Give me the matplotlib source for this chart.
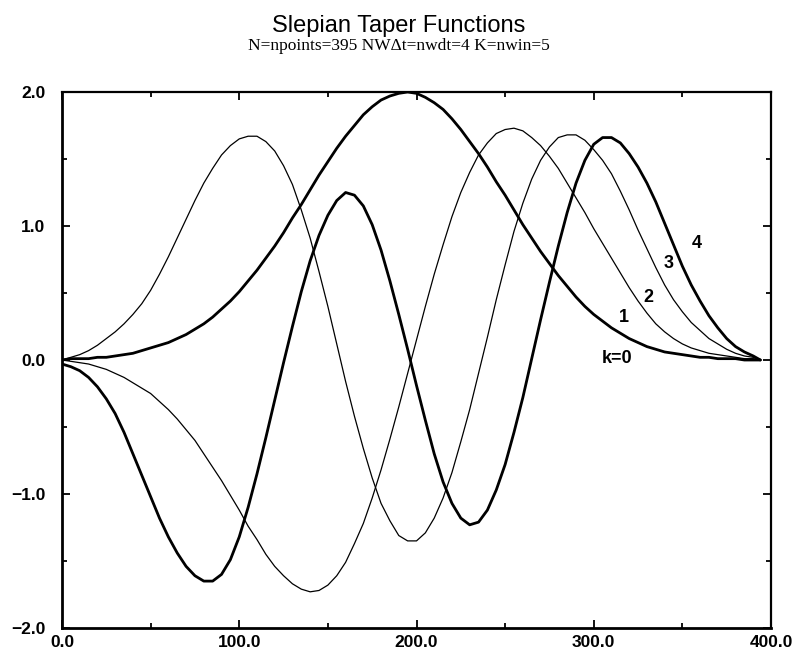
import matplotlib
matplotlib.use("Agg")
import matplotlib.pyplot as plt
from matplotlib.ticker import MultipleLocator, FuncFormatter

# sample positions along the taper (N = 395 points)
x = list(range(0, 395, 5)) + [394]

# taper values, one list per order k
k0 = [0.00, 0.01, 0.01, 0.01, 0.02, 0.02, 0.03, 0.04, 0.05, 0.07,
      0.09, 0.11, 0.13, 0.16, 0.19, 0.23, 0.27, 0.32, 0.38, 0.44,
      0.51, 0.59, 0.67, 0.76, 0.85, 0.95, 1.06, 1.16, 1.27, 1.38,
      1.48, 1.58, 1.67, 1.75, 1.83, 1.89, 1.94, 1.97, 1.99, 2.00,
      1.99, 1.96, 1.92, 1.87, 1.80, 1.72, 1.63, 1.54, 1.44, 1.33,
      1.23, 1.12, 1.01, 0.91, 0.81, 0.72, 0.63, 0.55, 0.47, 0.40,
      0.34, 0.29, 0.24, 0.20, 0.16, 0.13, 0.10, 0.08, 0.06, 0.05,
      0.04, 0.03, 0.02, 0.02, 0.01, 0.01, 0.01, 0.00, 0.00, 0.00]
k1 = [0.00, -0.01, -0.02, -0.03, -0.05, -0.07, -0.10, -0.13, -0.17, -0.21,
      -0.25, -0.31, -0.37, -0.44, -0.52, -0.60, -0.70, -0.80, -0.90, -1.01,
      -1.12, -1.24, -1.34, -1.45, -1.54, -1.61, -1.67, -1.71, -1.73, -1.72,
      -1.68, -1.61, -1.51, -1.37, -1.22, -1.03, -0.82, -0.59, -0.35, -0.10,
      0.15, 0.40, 0.64, 0.86, 1.07, 1.25, 1.40, 1.53, 1.62, 1.69,
      1.72, 1.73, 1.71, 1.66, 1.60, 1.52, 1.43, 1.32, 1.21, 1.10,
      0.98, 0.87, 0.76, 0.65, 0.54, 0.44, 0.35, 0.27, 0.21, 0.16,
      0.12, 0.09, 0.07, 0.05, 0.04, 0.03, 0.02, 0.01, 0.01, 0.00]
k2 = [0.00, 0.02, 0.04, 0.07, 0.11, 0.16, 0.21, 0.27, 0.34, 0.42,
      0.52, 0.64, 0.77, 0.91, 1.05, 1.19, 1.32, 1.43, 1.53, 1.60,
      1.65, 1.67, 1.67, 1.63, 1.56, 1.45, 1.31, 1.12, 0.91, 0.66,
      0.40, 0.12, -0.16, -0.42, -0.66, -0.88, -1.07, -1.20, -1.31, -1.35,
      -1.35, -1.29, -1.18, -1.03, -0.84, -0.61, -0.37, -0.10, 0.17, 0.45,
      0.71, 0.96, 1.17, 1.35, 1.49, 1.59, 1.66, 1.68, 1.68, 1.64,
      1.57, 1.49, 1.39, 1.26, 1.12, 0.97, 0.83, 0.69, 0.56, 0.45,
      0.36, 0.28, 0.22, 0.16, 0.12, 0.08, 0.05, 0.03, 0.02, 0.00]
k3 = [-0.03, -0.05, -0.08, -0.13, -0.20, -0.29, -0.40, -0.54, -0.70, -0.86,
      -1.02, -1.18, -1.32, -1.44, -1.54, -1.61, -1.65, -1.65, -1.60, -1.49,
      -1.32, -1.10, -0.85, -0.58, -0.30, -0.02, 0.25, 0.51, 0.74, 0.93,
      1.08, 1.19, 1.25, 1.23, 1.15, 1.01, 0.82, 0.59, 0.34, 0.08,
      -0.19, -0.45, -0.70, -0.91, -1.07, -1.18, -1.23, -1.21, -1.12, -0.97,
      -0.78, -0.54, -0.28, 0.01, 0.30, 0.58, 0.85, 1.10, 1.32, 1.49,
      1.61, 1.66, 1.66, 1.62, 1.54, 1.44, 1.32, 1.18, 1.02, 0.86,
      0.70, 0.56, 0.44, 0.33, 0.24, 0.16, 0.10, 0.06, 0.03, 0.00]

series = [(k0, 2.0), (k1, 0.9), (k2, 0.9), (k3, 2.0)]

# curve labels at the right-hand tails
label_text = ["k=0", "1", "2", "3", "4"]
label_x = [313, 317, 331, 342, 358]
label_y = [0.01, 0.32, 0.47, 0.72, 0.87]

plt.rcParams['font.family'] = ['Liberation Sans', 'DejaVu Sans']

fig = plt.figure(figsize=(7.97, 6.55), dpi=100)
ax = fig.add_axes([62 / 797, 1 - 628 / 655, 709 / 797, 536 / 655])

for vals, lw in series:
    ax.plot(x, vals, color='black', lw=lw, solid_capstyle='round',
            solid_joinstyle='round')

for t, lx, ly in zip(label_text, label_x, label_y):
    ax.text(lx, ly, t, ha='center', va='center', fontsize=13, fontweight='bold')

ax.set_xlim(0, 400)
ax.set_ylim(-2, 2)
ax.xaxis.set_major_locator(MultipleLocator(100))
ax.xaxis.set_minor_locator(MultipleLocator(50))
ax.yaxis.set_major_locator(MultipleLocator(1))
ax.yaxis.set_minor_locator(MultipleLocator(0.5))
fmt = FuncFormatter(lambda v, pos: f"{v:.1f}".replace('-', '\u2212'))
ax.xaxis.set_major_formatter(fmt)
ax.yaxis.set_major_formatter(fmt)

ax.tick_params(which='both', direction='in', top=True, right=True, width=1.3)
ax.tick_params(which='major', length=6)
ax.tick_params(which='minor', length=3.5)
ax.tick_params(axis='x', pad=5, labelsize=12.5)
ax.tick_params(axis='y', pad=12, labelsize=12.5)
for lab in ax.get_xticklabels() + ax.get_yticklabels():
    lab.set_fontweight('bold')

for side in ['left', 'bottom']:
    ax.spines[side].set_linewidth(2.0)
for side in ['top', 'right']:
    ax.spines[side].set_linewidth(1.6)

fig.text(0.5, 1 - 26 / 655, 'Slepian Taper Functions', ha='center', va='center',
         fontsize=17)
fig.text(0.5, 1 - 46 / 655, 'N=npoints=395 NW\u0394t=nwdt=4 K=nwin=5',
         ha='center', va='center', fontsize=12.5,
         family=['Liberation Serif', 'DejaVu Serif'])

fig.savefig('out.png', dpi=100)
